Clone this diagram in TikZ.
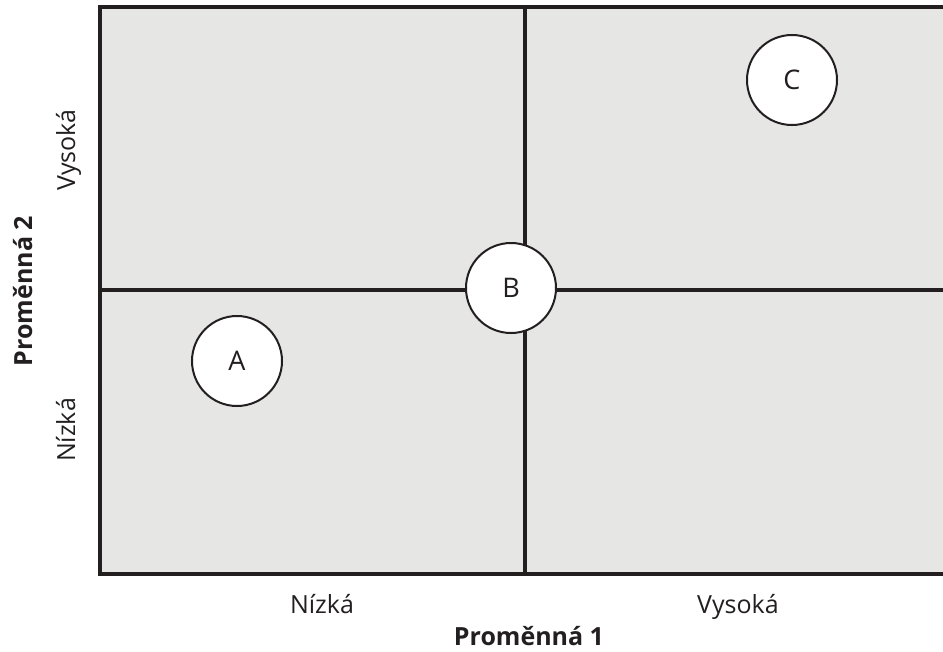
\documentclass[tikz,border=0pt]{standalone}
\usepackage{fontspec}
\setmainfont{Open Sans}
\begin{document}
\begin{tikzpicture}[x=1pt,y=-1pt,
  frame/.style={line width=3.4pt,draw=ink},
  bubble/.style={circle,draw=ink,line width=2pt,fill=white,minimum size=90pt,inner sep=0pt,text=ink,font=\fontsize{27}{32}\selectfont},
  axlabel/.style={font=\fontsize{25}{30}\selectfont,text=ink,inner sep=0pt,anchor=base},
  axtitle/.style={font=\bfseries\fontsize{25}{30}\selectfont,text=ink,inner sep=0pt,anchor=base}]
\definecolor{ink}{HTML}{231F20}
\definecolor{panel}{HTML}{E6E6E5}
\useasboundingbox (0,0) rectangle (943,651);
% quadrant panel
\fill[panel] (100,7) rectangle (943,574);
\coordinate (tl) at (100,7);
\coordinate (bl) at (100,574);
\coordinate (tr) at (943,7);
\coordinate (br) at (943,574);
\coordinate (vt) at (525,7);
\coordinate (vb) at (525,574);
\coordinate (hl) at (100,290);
\coordinate (hr) at (943,290);
\draw[frame,line cap=rect] (tr) -- (tl) -- (bl) -- (br);
\draw[frame] (vt) -- (vb);
\draw[frame] (hl) -- (hr);
% bubbles
\node[bubble] (A) at (237,361) {A};
\node[bubble] (B) at (511,288) {B};
\node[bubble] (C) at (792,80) {C};
% axis labels
\node[axlabel] (x1) at (322,613) {Nízká};
\node[axlabel] (x2) at (738,613) {Vysoká};
\node[axtitle] (xt) at (529,645) {Proměnná 1};
\node[axlabel,rotate=90] (y1) at (75,430) {Nízká};
\node[axlabel,rotate=90] (y2) at (75,150) {Vysoká};
\node[axtitle,rotate=90] (yt) at (32,291) {Proměnná 2};
\end{tikzpicture}
\end{document}
